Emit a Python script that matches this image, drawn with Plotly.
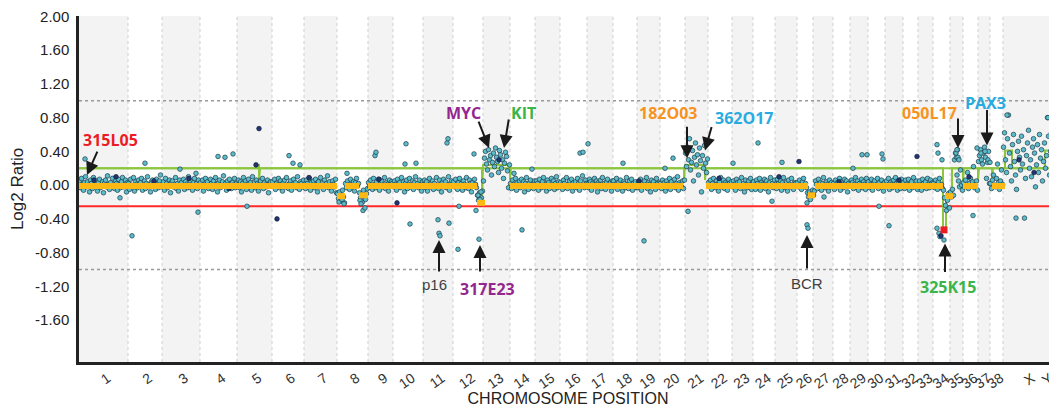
import plotly.graph_objects as go

# ---------------- data ----------------
chrom_names = [str(i) for i in range(1, 39)] + ["X", "Y"]
# chromosome widths (arbitrary genome units)
chrom_len = [49, 34, 38, 37, 35, 32, 33, 31, 25, 30, 30, 30, 27, 25, 25, 27, 26, 24, 23, 25,
             23, 24, 21, 22, 22, 16, 20, 17, 18, 17, 18, 15, 15, 17, 13, 15, 12, 13, 50, 6]

# probe log2 ratios (x100), in order along each chromosome
c01 = [5,-3,8,1,-6,3,10,-2,4,0,-8,6,2,-4,9,1,-1,5,-7,3,7,-3,0,4,-9,2,6,-2,11,1,-5,3,-1,8,0,-4,5,2,-6,7,1,-3,4,9,-2,0,6,-8,3]
c02 = [2,-5,7,0,-2,9,-7,4,1,-3,6,-1,3,8,-6,0,5,-4,2,10,-2,1,-8,4,6,-1,3,-5,7,0,-3,5,12,-2]
c03 = [-1,4,-6,8,2,-3,0,6,-9,3,5,-2,1,9,-4,2,-7,6,0,3,-1,7,-5,4,1,-3,10,-2,5,0,-6,3,8,-1,2,-4,6,1]
c04 = [3,-2,6,-7,1,8,-1,4,-4,0,7,2,-5,5,-2,9,1,-8,3,6,-3,0,4,11,-1,2,-6,5,-2,7,1,-4,3,0,8,-3,2]
c05 = [0,6,-3,4,-8,2,9,-1,5,-5,1,7,-2,3,-6,10,0,4,-3,6,2,-7,1,5,-1,8,-4,3,0,-2,6,-9,2,4,-1]
c06 = [4,-1,7,-5,2,0,8,-3,5,1,-7,3,6,-2,9,0,-4,2,5,-6,1,7,-1,3,-3,10,0,-5,4,2,-2,6]
c07 = [1,-4,6,2,-1,8,-6,3,0,5,-3,7,1,-8,4,-2,9,0,3,-5,6,-1,2,11,-3,4,0,-7,5,1,-2,7,-9]
c08 = [-10,-16,-8,-19,-12,-6,-14,-21,2,-3,5,0,-5,7,1,-2,4,-7,3,8,-1,2,-9,-15,-11,-20,-6,-13,-17,-10,-4]
c09 = [3,-2,6,0,-5,8,1,-3,4,-1,7,-6,2,5,-2,0,9,-4,3,1,-7,6,-1,4,2]
c10 = [-2,5,1,-6,7,0,3,-3,9,-1,4,-8,2,6,-4,1,8,-2,0,5,-5,3,10,-1,2,-3,6,0,-7,4]
c11 = [1,6,-3,4,-7,0,8,-2,3,5,-5,2,-1,9,0,-4,6,1,-8,3,7,-2,4,-3,0,10,-6,2,5,-1]
c12 = [4,-2,7,0,-5,3,8,-1,2,-6,5,1,-3,9,0,-4,6,2,-8,3,-1,7,1,-3,-12,-18,-9,-22,-15,-7]
c13 = [5,32,40,25,18,42,30,35,12,27,38,22,44,33,28,15,41,36,20,30,8,26,39,34,17,-3,24]
c14 = [2,-4,6,1,-2,8,-6,3,0,5,-3,7,-1,4,-8,2,9,0,-5,3,6,-2,1,-4,5]
c15 = [-1,5,2,-6,7,0,-3,4,9,-2,1,-7,6,3,-4,0,8,-1,5,-5,2,10,-3,4,1]
c16 = [3,0,-5,6,2,-2,9,-4,1,5,-1,7,-7,3,0,4,-3,8,2,-6,5,-1,11,0,-3,6,2]
c17 = [1,-3,7,4,-6,2,0,8,-2,5,-8,3,1,6,-4,9,-1,2,-5,4,7,0,-2,3,-7,5]
c18 = [5,-2,1,8,-5,3,-1,6,0,-7,4,2,-3,9,1,-4,5,-1,7,-6,2,0,4,-3]
c19 = [-3,4,1,7,-6,2,0,5,-2,9,-4,3,1,-8,6,-1,4,0,-5,8,2,-2,3]
c20 = [2,-4,6,0,3,-7,5,1,-2,8,-5,4,0,-1,7,-3,2,10,-6,3,1,-2,5,-4,6]
c21 = [38,22,45,30,55,18,27,41,5,33,50,24,36,12,44,29,-8,35,20,47,26,15,31]
c22 = [3,-1,6,-5,2,8,0,-3,5,1,-7,4,9,-2,0,6,-4,3,1,-6,7,2,-1,4]
c23 = [-2,5,1,-6,7,3,-1,4,-4,9,0,2,-8,6,1,-3,5,-1,8,-5,2]
c24 = [4,0,-5,6,2,-2,8,-6,3,1,-1,7,-4,5,0,-8,3,9,-2,2,-3,6]
c25 = [1,-4,7,2,-1,5,-6,3,9,0,-3,4,-7,6,1,-2,8,0,-5,3,2,-1]
c26 = [3,-2,6,0,-5,4,8,-1,2,-3,-9,-14,-8,-17,-11,-6]
c27 = [-12,-7,5,1,-4,7,-1,3,-6,2,9,0,-3,4,1,-7,6,-2,3,0]
c28 = [2,-5,6,0,3,-2,8,-6,4,1,-3,7,-1,5,-8,2,0]
c29 = [-1,6,3,-4,1,9,-2,5,-6,2,0,7,-3,4,1,-5,8,-1]
c30 = [4,-3,1,7,-6,2,5,-1,0,8,-4,3,-2,6,1,-7,3]
c31 = [0,5,-2,8,-5,3,1,-3,6,-1,9,2,-6,4,0,-4,7,1]
c32 = [3,-4,6,1,-1,7,-6,2,4,-3,9,0,-2,5,-5]
c33 = [-2,5,0,-6,7,2,-1,4,-4,8,1,-3,6,0,3]
c34 = [2,-3,6,0,-5,4,8,-2,1,-4,-6,-15,-24,-30,-18,-10,-27]
c35 = [-8,-14,-5,-12,30,38,33,42,5,-2,18,0,-6]
c36 = [3,-2,6,0,15,-4,2,8,-1,4,22,-3,1,5,-6]
c37 = [28,35,42,30,25,38,45,33,8,27,40,2]
c38 = [2,-4,6,12,0,-2,8,25,3,-5,5,18,1]
cX = [45,62,30,15,55,83,38,22,5,48,60,28,12,-5,40,52,33,18,58,25,42,-39,8,35,50,
      65,20,30,10,45,55,38,-2,24,48,15,60,32,42,5,28,50,20,35,80,58,12,40,62,25]
cY = [-110,-120]

probe_sets = [c01,c02,c03,c04,c05,c06,c07,c08,c09,c10,c11,c12,c13,c14,c15,c16,c17,c18,c19,c20,
              c21,c22,c23,c24,c25,c26,c27,c28,c29,c30,c31,c32,c33,c34,c35,c36,c37,c38,cX,cY]

# isolated clones (genome position, log2 ratio x100)
out_pos = [6,41,53,66,101,117,119,139,146,154,168,210,214,221,268,260,263,265,281,284,286,282,
           296,297,326,327,331,337,359,360,361,370,368,369,379,380,395,397,400,399,401,402,
           435,443,453,501,504,509,544,565,586,594,609,654,679,693,703,728,728,729,745,774,
           783,788,800,803,804,810,858,859,863,858,860,861,865,877,879,880,878,878,898,902,
           906,909,911,894,928,969,937]
out_val = [31,-15,-60,26,19,14,-32,34,33,37,-25,35,26,24,14,-20,-17,-22,-18,-30,-27,-22,
           35,39,25,49,-46,26,-41,-57,-60,-45,50,55,-76,-25,37,-30,-64,-12,-17,-8,
           14,-53,19,38,39,49,26,-66,20,32,-31,26,50,-19,27,-21,-47,-51,-14,20,
           36,36,-25,37,31,-48,48,38,30,-51,-57,-61,-65,38,33,30,42,12,44,38,
           40,30,27,-36,83,80,-39]
# darker clones
navy_pos = [177,180,198,318,720,838,15,37,75,110,150,230,300,420,560,640,700,760,820,890,940,955,862]
navy_val = [24,67,-40,-21,28,34,6,10,5,8,-4,9,7,30,5,8,10,4,6,10,30,15,-60]

# segmentation (orange) : start, end, level
seg_start = [0, 258, 266, 280, 289, 398, 431, 627, 729, 736, 866, 884, 913]
seg_end   = [258, 266, 280, 289, 398, 406, 604, 729, 736, 864, 874, 899, 926]
seg_val   = [-0.01, -0.13, -0.01, -0.12, -0.01, -0.21, -0.01, -0.01, -0.12, -0.01, -0.13, -0.01, -0.01]

# green gain/loss line
green_pos = [0, 180, 180, 180, 181, 403, 403, 404, 431, 431, 432, 605, 605, 606, 626, 626, 627,
             864, 864, 867, 867, 873, 873, 884, 884, 885, 899, 899, 900, 913, 913, 914,
             926, 926, 933, 933, 966, 966, 971, 971, 973, 978]
green_val = [0.2, 0.2, 0.25, 0.03, 0.2, 0.2, -0.15, 0.24, 0.24, 0.06, 0.2, 0.2, 0.06, 0.24, 0.24, 0.06, 0.2,
             0.2, -0.53, -0.53, -0.13, -0.13, 0.2, 0.2, 0.04, 0.2, 0.2, 0.06, 0.2, 0.2, 0.05, 0.2,
             0.2, 0.41, 0.41, 0.2, 0.2, 0.41, 0.41, 0.2, -1.18, -0.9]

# loss calls (red squares)
loss_pos = [865, 975]
loss_val = [-0.53, -1.18]

gain_thr = 0.2
loss_thr = -0.25
yticks = [-1.6, -1.2, -0.8, -0.4, 0.0, 0.4, 0.8, 1.2, 1.6, 2.0]

X_RANGE = [0, 978]

# ---------------- derived ----------------
starts = []
acc = 0
for L in chrom_len:
    starts.append(acc)
    acc += L
centers = [s + L / 2 for s, L in zip(starts, chrom_len)]
# keep the last (partly cropped) chromosome's label inside the picture
label_pos = [min(c, X_RANGE[1] - 11) for c in centers]

bx, by = [], []
for s, L, vals in zip(starts, chrom_len, probe_sets):
    n = len(vals)
    for i, v in enumerate(vals):
        bx.append(s + (i + 0.5) * L / n)
        by.append(v / 100)

sx, sy = [], []
for a, b, v in zip(seg_start, seg_end, seg_val):
    sx += [a, b, None]
    sy += [v, v, None]

fig = go.Figure()

marker_style = dict(size=4.6, color="#5bbccb", line=dict(color="#1d3946", width=0.7))

fig.add_trace(go.Scatter(x=green_pos, y=green_val, mode="lines",
                         line=dict(color="#8cc63f", width=2), hoverinfo="skip"))
fig.add_trace(go.Scatter(x=bx, y=by, mode="markers", marker=marker_style, hoverinfo="skip"))
fig.add_trace(go.Scatter(x=out_pos, y=[v / 100 for v in out_val], mode="markers",
                         marker=marker_style, hoverinfo="skip"))
fig.add_trace(go.Scatter(x=navy_pos, y=[v / 100 for v in navy_val], mode="markers",
                         marker=dict(size=4.6, color="#223577", line=dict(color="#111a33", width=0.7)),
                         hoverinfo="skip"))
fig.add_trace(go.Scatter(x=sx, y=sy, mode="lines",
                         line=dict(color="#fdb813", width=6), hoverinfo="skip"))
fig.add_trace(go.Scatter(x=loss_pos, y=loss_val, mode="markers",
                         marker=dict(symbol="square", size=7, color="#ed1c24"), hoverinfo="skip"))

shapes = []
for k, (s, L) in enumerate(zip(starts, chrom_len)):
    if k % 2 == 0:
        shapes.append(dict(type="rect", xref="x", yref="paper", x0=s, x1=s + L, y0=0, y1=1,
                           fillcolor="#f3f3f3", line=dict(width=0), layer="below"))
for s in starts[1:]:
    shapes.append(dict(type="line", xref="x", yref="paper", x0=s, x1=s, y0=0, y1=1,
                       line=dict(color="#cfcfcf", width=1, dash="3px,3px"), layer="below"))
for yv in (1.0, -1.0):
    shapes.append(dict(type="line", xref="paper", yref="y", x0=0, x1=1, y0=yv, y1=yv,
                       line=dict(color="#9a9a9a", width=1.5, dash="3px,3px"), layer="below"))
shapes.append(dict(type="line", xref="paper", yref="y", x0=0, x1=1, y0=loss_thr, y1=loss_thr,
                   line=dict(color="#ff2a2a", width=2), layer="below"))
shapes.append(dict(type="line", xref="paper", yref="y", x0=0, x1=1, y0=gain_thr, y1=gain_thr,
                   line=dict(color="#8cc63f", width=2), layer="below"))

bold = "Open Sans"
labels = [
    ("315L05", 31, 0.54, "#ed1c24", True),
    ("MYC", 384, 0.86, "#93278f", True),
    ("KIT", 444, 0.86, "#39b54a", True),
    ("182O03", 589, 0.85, "#f7931e", True),
    ("362O17", 665, 0.79, "#29abe2", True),
    ("050L17", 850, 0.86, "#f7931e", True),
    ("PAX3", 906, 0.97, "#29abe2", True),
    ("p16", 355, -1.18, "#404040", False),
    ("317E23", 408, -1.23, "#93278f", True),
    ("BCR", 728, -1.16, "#404040", False),
    ("325K15", 869, -1.21, "#39b54a", True),
]
arrows = [
    (8, 0.12, 11, -25), (410, 0.44, -11, -28), (425, 0.44, 5, -30), (608, 0.32, 0, -33),
    (626, 0.41, 7, -25), (879, 0.44, 0, -31), (908, 0.47, 0, -37),
    (360, -0.65, 0, 33), (401, -0.71, 0, 28), (728, -0.59, 0, 35), (866, -0.69, 0, 30),
]
annotations = []
for t, x, y, c, b in labels:
    annotations.append(dict(x=x, y=y, xref="x", yref="y", text=f"<b>{t}</b>" if b else t,
                            showarrow=False,
                            font=dict(family=bold if b else "Liberation Sans", size=16 if b else 15, color=c)))
for x, y, ax, ay in arrows:
    annotations.append(dict(x=x, y=y, xref="x", yref="y", text="", showarrow=True,
                            ax=ax, ay=ay, arrowhead=2, arrowsize=1.3, arrowwidth=2,
                            arrowcolor="#1a1a1a", standoff=0))

# the page body adds an 8px margin at the top-left, so the figure is sized to fill the rest
fig.update_layout(
    width=1049, height=399,
    margin=dict(l=71, r=0, t=8, b=45, autoexpand=False),
    paper_bgcolor="white", plot_bgcolor="white",
    showlegend=False, hovermode=False,
    shapes=shapes, annotations=annotations,
    font=dict(family="Liberation Sans", color="#222"),
)
fig.update_xaxes(
    range=X_RANGE, showgrid=False, zeroline=False, automargin=False,
    showline=True, linecolor="#222", linewidth=2.5,
    tickmode="array", tickvals=label_pos, ticktext=chrom_names,
    tickangle=-35, ticks="", tickfont=dict(size=14, color="#333"),
    ticklabelshift=4, ticklabeloverflow="allow",
    title=dict(text="CHROMOSOME POSITION", font=dict(size=16, color="#222"), standoff=4),
)
fig.update_yaxes(
    range=[-2.095, 2.004], showgrid=False, zeroline=False, automargin=False,
    showline=True, linecolor="#222", linewidth=2.5,
    tickmode="array", tickvals=yticks, ticktext=[f"{v:.2f}" for v in yticks],
    ticks="", tickfont=dict(size=15, color="#222"), ticklabelstandoff=4,
    ticklabeloverflow="allow",
    title=dict(text="Log2 Ratio", font=dict(size=17, color="#222"), standoff=12),
)

fig.write_html("out.html")
